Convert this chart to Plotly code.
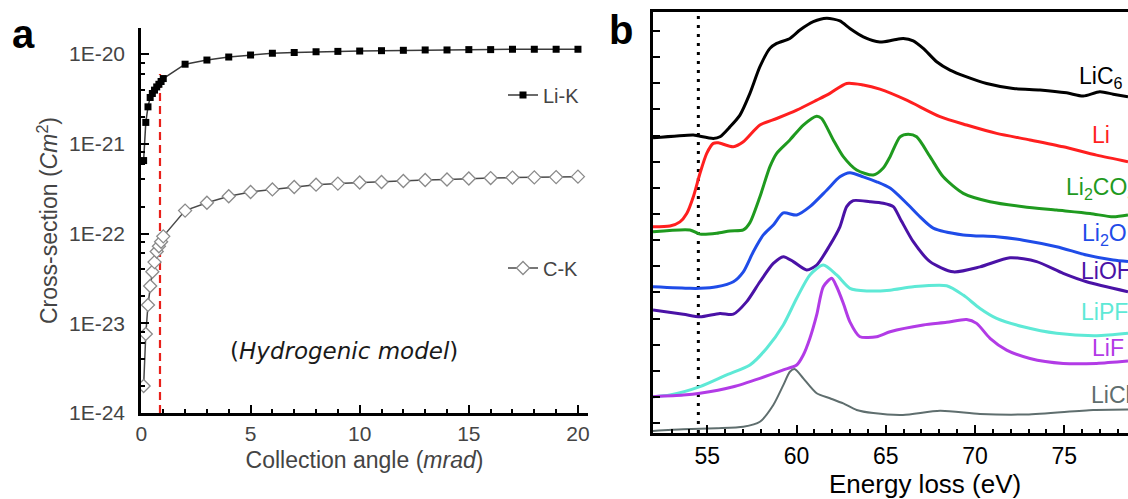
import plotly.graph_objects as go

W, H = 1128, 499

# ---------------- panel a data ----------------
angle_mrad = [0.1, 0.2, 0.3, 0.4, 0.5, 0.6, 0.7, 0.8, 0.9, 1.0,
              2, 3, 4, 5, 6, 7, 8, 9, 10, 11, 12, 13, 14, 15, 16, 17, 18, 19, 20]
li_k = [6.5e-22, 1.73e-21, 2.58e-21, 3.28e-21, 3.63e-21, 3.96e-21, 4.3e-21, 4.6e-21, 4.94e-21, 5.33e-21,
        7.7e-21, 8.57e-21, 9.26e-21, 9.75e-21, 1.02e-20, 1.04e-20, 1.06e-20, 1.07e-20, 1.08e-20,
        1.09e-20, 1.10e-20, 1.11e-20, 1.11e-20, 1.12e-20, 1.12e-20, 1.13e-20, 1.13e-20, 1.13e-20, 1.13e-20]
c_k = [2.0e-24, 7.6e-24, 1.6e-23, 2.6e-23, 3.75e-23, 4.8e-23, 6.3e-23, 7.2e-23, 8.1e-23, 9.3e-23,
       1.8e-22, 2.2e-22, 2.6e-22, 2.9e-22, 3.1e-22, 3.3e-22, 3.5e-22, 3.6e-22, 3.7e-22,
       3.75e-22, 3.85e-22, 3.95e-22, 4.0e-22, 4.1e-22, 4.15e-22, 4.2e-22, 4.22e-22, 4.25e-22, 4.3e-22]
cutoff_angle = 0.85
cutoff_top = 6.0e-21
ya_ticks = [1e-24, 1e-23, 1e-22, 1e-21, 1e-20]
ya_ticktext = ["1E-24", "1E-23", "1E-22", "1E-21", "1E-20"]

# ---------------- panel b data (energy loss eV, offset intensity) ----------------
licl_ev = [51.96, 53.66, 55.53, 57.02, 57.95, 58.70, 59.26, 59.63, 59.91, 60.38, 61.13, 61.87, 62.62,
           63.37, 64.30, 65.96, 68.04, 70.28, 72.89, 76.62, 78.57]
licl_i = [-0.29, -0.23, -0.19, -0.13, 0.06, 0.70, 1.46, 1.97, 2.07, 1.72, 1.15, 0.96, 0.76,
          0.51, 0.39, 0.32, 0.48, 0.36, 0.34, 0.51, 0.53]

lif_ev = [51.96, 53.66, 54.59, 56.46, 57.95, 59.26, 60.01, 60.38, 60.75, 61.13, 61.50, 61.97, 62.25,
          62.62, 62.99, 63.55, 64.49, 65.24, 67.10, 68.41, 69.53, 70.09, 70.84, 71.77, 73.08, 74.94,
          76.81, 78.57]
lif_i = [1.02, 1.08, 1.15, 1.40, 1.72, 2.04, 2.23, 2.61, 3.25, 4.14, 5.22, 5.54, 5.22,
         4.59, 3.88, 3.31, 3.31, 3.50, 3.76, 3.86, 3.97, 3.82, 3.25, 2.80, 2.48, 2.29,
         2.29, 2.38]

lipf6_ev = [51.96, 52.91, 54.59, 56.09, 57.39, 58.33, 59.26, 60.01, 60.75, 61.50, 62.25, 62.99, 63.93,
            65.24, 66.54, 68.41, 69.34, 70.28, 71.21, 72.70, 74.57, 76.81, 78.57]
lipf6_i = [1.02, 1.08, 1.40, 1.85, 2.23, 2.87, 3.76, 4.78, 5.67, 6.05, 5.67, 5.16, 5.06,
           5.09, 5.22, 5.26, 4.90, 4.39, 4.01, 3.69, 3.44, 3.35, 3.44]

lioh_ev = [51.96, 53.66, 54.59, 55.71, 56.46, 57.21, 57.95, 58.70, 59.26, 59.82, 60.57, 61.13, 61.87,
           62.43, 62.81, 63.18, 64.11, 64.86, 65.42, 65.80, 66.54, 67.48, 68.78, 70.28, 71.96, 73.45,
           74.94, 76.25, 78.57]
lioh_i = [4.33, 4.17, 4.07, 4.20, 4.17, 4.65, 5.41, 6.11, 6.37, 6.18, 5.86, 6.05, 6.81,
          7.51, 8.28, 8.51, 8.47, 8.41, 8.28, 7.83, 6.94, 6.18, 5.79, 5.98, 6.33, 6.18,
          5.73, 5.41, 5.03]

li2o_ev = [51.96, 54.03, 54.59, 55.53, 56.46, 57.02, 57.58, 58.14, 58.70, 59.26, 60.01, 60.75, 61.69,
           62.43, 62.99, 63.74, 64.49, 65.24, 66.17, 66.92, 67.66, 69.34, 71.21, 72.70, 74.57, 76.25,
           77.74, 78.57]
li2o_i = [5.22, 5.16, 5.16, 5.22, 5.41, 5.79, 6.56, 7.20, 7.58, 8.04, 7.96, 8.28, 8.91,
          9.42, 9.58, 9.42, 9.23, 8.99, 8.41, 7.89, 7.46, 7.20, 7.13, 7.00, 6.75, 6.43,
          6.24, 6.18]

li2co3_ev = [51.96, 54.03, 54.59, 55.53, 56.27, 57.02, 57.39, 57.95, 58.51, 58.89, 59.63, 60.38, 61.13,
             61.41, 62.06, 62.62, 63.37, 64.30, 64.86, 65.24, 65.80, 66.26, 66.73, 67.48, 68.22, 69.34,
             70.84, 72.70, 74.57, 76.44, 77.74, 78.57]
li2co3_i = [7.32, 7.39, 7.23, 7.26, 7.35, 7.39, 7.67, 8.66, 9.81, 10.32, 10.83, 11.40, 11.74,
            11.65, 10.83, 10.19, 9.68, 9.49, 9.76, 10.19, 10.95, 11.05, 10.95, 10.19, 9.42, 8.79,
            8.47, 8.28, 8.15, 8.02, 7.89, 7.96]

li_ev = [51.96, 52.91, 53.47, 53.85, 54.22, 54.59, 54.97, 55.34, 55.62, 56.46, 57.02, 57.95, 58.89,
         60.01, 61.13, 61.87, 62.81, 63.74, 64.67, 66.17, 68.04, 69.53, 71.21, 73.08, 74.94, 76.81, 78.57]
li_i = [7.51, 7.54, 7.70, 8.02, 8.66, 9.55, 10.32, 10.70, 10.72, 10.57, 10.76, 11.40, 11.65,
        11.97, 12.35, 12.61, 12.99, 12.93, 12.77, 12.35, 11.72, 11.40, 11.08, 10.83, 10.57, 10.25, 10.00]

lic6_ev = [51.96, 54.22, 54.48, 55.34, 55.71, 56.27, 56.83, 57.39, 57.95, 58.51, 58.89, 59.63, 60.19,
           60.94, 61.69, 62.43, 62.99, 63.74, 64.67, 65.42, 65.98, 66.54, 67.10, 67.85, 68.60, 69.53,
           70.65, 72.14, 73.64, 75.13, 76.06, 76.99, 77.74, 78.57]
lic6_i = [10.91, 11.02, 10.99, 10.89, 10.95, 11.33, 11.78, 12.61, 13.63, 14.33, 14.52, 14.71, 15.03,
          15.35, 15.48, 15.38, 15.09, 14.77, 14.57, 14.65, 14.71, 14.62, 14.33, 13.82, 13.50, 13.24,
          12.99, 12.80, 12.74, 12.63, 12.51, 12.67, 12.58, 12.48]

onset_ev = 54.5
xb_range = [51.96, 78.57]
yb_range = [-0.37, 15.72]

spectra = [
    ("LiC<sub>6</sub>", lic6_ev, lic6_i, "#000000", 3.0, 75.69, 13.23),
    ("Li", li_ev, li_i, "#ff1f1f", 3.0, 76.44, 11.02),
    ("Li<sub>2</sub>CO<sub>3</sub>", li2co3_ev, li2co3_i, "#1f9a1f", 3.0, 75.0, 8.99),
    ("Li<sub>2</sub>O", li2o_ev, li2o_i, "#1f4ce8", 3.0, 75.88, 7.20),
    ("LiOH", lioh_ev, lioh_i, "#4a12a6", 3.0, 75.84, 5.82),
    ("LiPF<sub>6</sub>", lipf6_ev, lipf6_i, "#5ee9d6", 3.0, 75.80, 4.21),
    ("LiF", lif_ev, lif_i, "#b23be6", 3.0, 76.44, 2.88),
    ("LiCl", licl_ev, licl_i, "#5f6e6e", 2.0, 76.40, 1.08),
]

FONT = "Liberation Sans, Arial, Helvetica, sans-serif"

fig = go.Figure()

# ---- panel a traces ----
fig.add_trace(go.Scatter(
    x=[cutoff_angle, cutoff_angle], y=[ya_ticks[0], cutoff_top], mode="lines",
    line=dict(color="#e8201a", width=2.2, dash="8px,5px"),
    xaxis="x", yaxis="y", showlegend=False, hoverinfo="skip"))
fig.add_trace(go.Scatter(
    x=angle_mrad, y=li_k, mode="lines+markers", name="Li-K",
    line=dict(color="#3a3a3a", width=1.5),
    marker=dict(symbol="square", size=7, color="black", line=dict(width=0)),
    xaxis="x", yaxis="y", legend="legend"))
fig.add_trace(go.Scatter(
    x=angle_mrad, y=c_k, mode="lines+markers", name="C-K",
    line=dict(color="#4a4a4a", width=1.5),
    marker=dict(symbol="diamond", size=10, color="white", line=dict(width=1.3, color="#8a8a8a")),
    xaxis="x", yaxis="y", legend="legend2"))

# ---- panel b traces ----
fig.add_trace(go.Scatter(
    x=[onset_ev, onset_ev], y=yb_range, mode="lines",
    line=dict(color="black", width=3, dash="3px,6px"),
    xaxis="x2", yaxis="y2", showlegend=False, hoverinfo="skip"))
for name, ev, inten, col, lw, lx, ly in spectra:
    fig.add_trace(go.Scatter(
        x=ev, y=inten, mode="lines", name=name,
        line=dict(color=col, width=lw, shape="spline", smoothing=0.7),
        xaxis="x2", yaxis="y2", showlegend=False))

annotations = []
for name, ev, inten, col, lw, lx, ly in spectra:
    annotations.append(dict(
        x=lx, y=ly, xref="x2", yref="y2", text=name, showarrow=False,
        xanchor="left", yanchor="middle", font=dict(size=23, color=col, family=FONT)))

annotations += [
    dict(x=23 / W, y=1 - 34 / H, xref="paper", yref="paper", text="<b>a</b>", showarrow=False,
         xanchor="center", yanchor="middle", font=dict(size=40, color="black", family=FONT)),
    dict(x=621 / W, y=1 - 30 / H, xref="paper", yref="paper", text="<b>b</b>", showarrow=False,
         xanchor="center", yanchor="middle", font=dict(size=40, color="black", family=FONT)),
    dict(x=344 / W, y=1 - 351 / H, xref="paper", yref="paper",
         text="(<i>Hydrogenic model</i>)", showarrow=False,
         xanchor="center", yanchor="middle",
         font=dict(size=23, color="#1a1a1a", family="DejaVu Sans, sans-serif")),
    dict(x=925 / W, y=1 - 484 / H, xref="paper", yref="paper",
         text="Energy loss (eV)", showarrow=False, xanchor="center", yanchor="middle",
         font=dict(size=26, color="black", family=FONT)),
]

minor_log = [m * 10.0 ** e for e in range(-24, -19) for m in (2, 4, 6, 8)]

fig.update_layout(
    width=W, height=H,
    margin=dict(l=0, r=0, t=0, b=0, autoexpand=False),
    paper_bgcolor="white", plot_bgcolor="white",
    font=dict(family=FONT, color="#444"),
    annotations=annotations,
    xaxis=dict(
        domain=[141 / W, 588 / W], range=[-0.02, 20.46], anchor="y", automargin=False,
        showgrid=False, zeroline=False, showline=True, linecolor="black", linewidth=2.5,
        ticks="inside", ticklen=8, tickwidth=2, tickcolor="black",
        tickmode="linear", tick0=0, dtick=5,
        minor=dict(ticks="inside", ticklen=4, tickwidth=1.5, tickcolor="black", tickmode="linear", tick0=0, dtick=1),
        tickfont=dict(size=21, color="#444"), ticklabelstandoff=0,
        title=dict(text="Collection angle (<i>mrad</i>)", font=dict(size=23, color="#444"), standoff=8),
    ),
    yaxis=dict(
        domain=[1 - 413 / H, 1 - 28 / H], type="log", range=[-24, -19.71], anchor="x", automargin=False,
        showgrid=False, zeroline=False, showline=True, linecolor="black", linewidth=2.5,
        ticks="inside", ticklen=8, tickwidth=2, tickcolor="black",
        tickmode="array", tickvals=ya_ticks, ticktext=ya_ticktext,
        minor=dict(ticks="inside", ticklen=4, tickwidth=1.5, tickcolor="black", tickmode="array", tickvals=minor_log),
        tickfont=dict(size=21, color="#444"), ticklabelstandoff=9,
        title=dict(text="Cross-section (<i>Cm</i><sup>2</sup>)", font=dict(size=23, color="#444"), standoff=5),
    ),
    xaxis2=dict(
        domain=[653 / W, 1.0], range=xb_range, anchor="y2", automargin=False,
        showgrid=False, zeroline=False, showline=True, linecolor="black", linewidth=2.5, mirror=True,
        ticks="inside", ticklen=8, tickwidth=2, tickcolor="black",
        tickmode="linear", tick0=55, dtick=5,
        minor=dict(ticks="inside", ticklen=4, tickwidth=1.5, tickcolor="black", tickmode="linear", tick0=52, dtick=1),
        tickfont=dict(size=23, color="black"), ticklabelstandoff=1,
    ),
    yaxis2=dict(
        domain=[1 - 433 / H, 1 - 12 / H], range=yb_range, anchor="x2", automargin=False,
        showgrid=False, zeroline=False, showline=True, linecolor="black", linewidth=2.5,
        ticks="inside", ticklen=7, tickwidth=2, tickcolor="black",
        tickmode="linear", tick0=0, dtick=1, showticklabels=False,
    ),
    legend=dict(x=503 / W, y=1 - 95 / H, xanchor="left", yanchor="middle",
                bgcolor="rgba(0,0,0,0)", font=dict(size=20, color="#444", family=FONT)),
    legend2=dict(x=503 / W, y=1 - 268 / H, xanchor="left", yanchor="middle",
                 bgcolor="rgba(0,0,0,0)", font=dict(size=20, color="#444", family=FONT)),
    showlegend=True,
)

fig.write_html("out.html", config={"displayModeBar": False},
               post_script="document.body.style.margin='0px';document.body.style.overflow='hidden';")
